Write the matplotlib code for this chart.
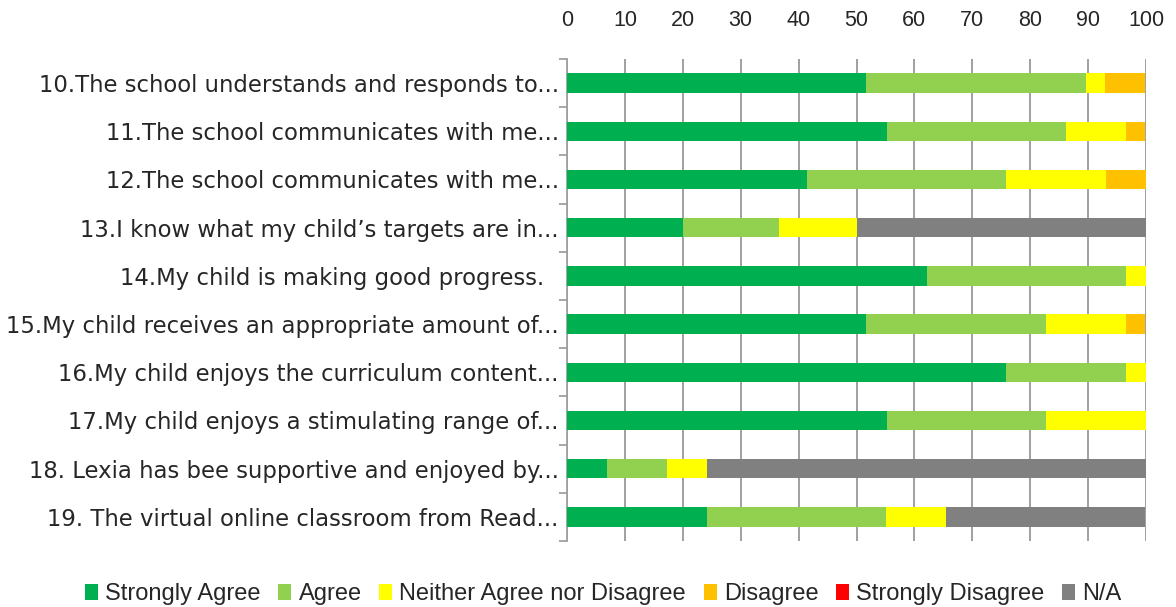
import numpy as np
import matplotlib
matplotlib.use("Agg")
import matplotlib.pyplot as plt
from matplotlib.ticker import MultipleLocator, FixedLocator

questions = [
    "10.The school understands and responds to...",
    "11.The school communicates with me...",
    "12.The school communicates with me...",
    "13.I know what my child\u2019s targets are in...",
    "14.My child is making good progress.  ",
    "15.My child receives an appropriate amount of...",
    "16.My child enjoys the curriculum content...",
    "17.My child enjoys a stimulating range of...",
    "18. Lexia has bee supportive and enjoyed by...",
    "19. The virtual online classroom from Read...",
]

strongly_agree = [51.7, 55.2, 41.4, 20.0, 62.1, 51.7, 75.9, 55.2, 6.9, 24.1]
agree = [37.9, 31.0, 34.5, 16.7, 34.5, 31.0, 20.7, 27.6, 10.3, 31.0]
neither = [3.4, 10.3, 17.2, 13.3, 3.4, 13.8, 3.4, 17.2, 6.9, 10.3]
disagree = [6.9, 3.4, 6.9, 0, 0, 3.4, 0, 0, 0, 0]
strongly_disagree = [0, 0, 0, 0, 0, 0, 0, 0, 0, 0]
not_applicable = [0, 0, 0, 50.0, 0, 0, 0, 0, 75.9, 34.5]

series = [
    ("Strongly Agree", strongly_agree, "#00B050"),
    ("Agree", agree, "#92D050"),
    ("Neither Agree nor Disagree", neither, "#FFFF00"),
    ("Disagree", disagree, "#FFC000"),
    ("Strongly Disagree", strongly_disagree, "#FF0000"),
    ("N/A", not_applicable, "#808080"),
]

fig = plt.figure(figsize=(11.76, 6.07), dpi=100)
ax = fig.add_axes([567 / 1176, 1 - 541 / 607, (1146 - 567) / 1176, (541 - 59) / 607])

y = np.arange(len(questions))
left = np.zeros(len(questions))
for name, vals, col in series:
    vals = np.array(vals)
    ax.barh(y, vals, left=left, height=0.4, color=col, label=name, zorder=3)
    left = left + vals

ax.set_xlim(0, 100)
ax.set_ylim(len(questions) - 0.5, -0.5)
ax.xaxis.set_major_locator(MultipleLocator(10))
ax.xaxis.tick_top()
ax.tick_params(axis="x", length=0, pad=20, labelsize=15.5, labelcolor="#262626")
for lbl in ax.get_xticklabels():
    lbl.set_family("Liberation Sans")

ax.set_yticks(y)
ax.set_yticklabels(questions, fontsize=16.4, color="#262626", family="DejaVu Sans")
ax.yaxis.set_minor_locator(FixedLocator(np.arange(-0.5, len(questions), 1)))
ax.tick_params(axis="y", which="major", length=0, pad=6)
ax.tick_params(axis="y", which="minor", length=6, color="#A0A0A0", width=1.3)

ax.grid(axis="x", color="#A0A0A0", linewidth=1.4, zorder=0)
for s in ["top", "right", "bottom"]:
    ax.spines[s].set_visible(False)
ax.spines["left"].set_color("#A0A0A0")
ax.spines["left"].set_linewidth(1.3)

leg = fig.legend(loc="center", bbox_to_anchor=(0.513, 1 - 594 / 607), ncol=6, frameon=False,
                 handlelength=0.55, handleheight=0.65, handletextpad=0.3,
                 columnspacing=0.75, prop={"family": "Liberation Sans", "size": 17})
for t in leg.get_texts():
    t.set_color("#262626")

fig.savefig("out.png", dpi=100)
